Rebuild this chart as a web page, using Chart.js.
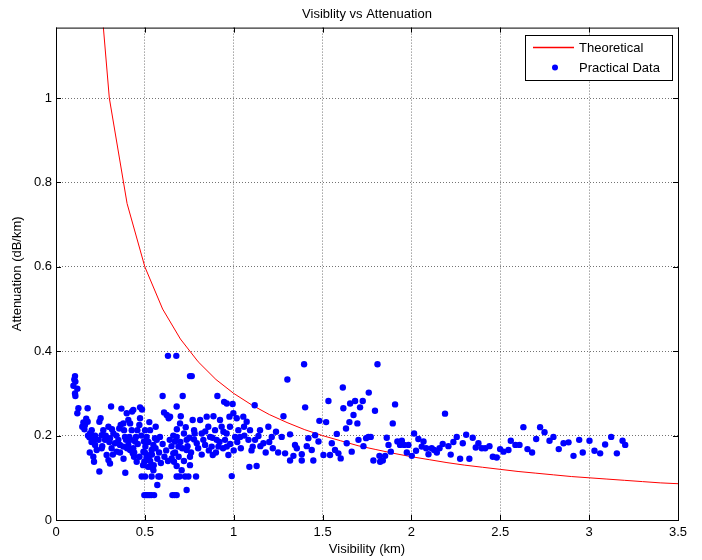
<!DOCTYPE html>
<html>
<head>
<meta charset="utf-8">
<script src="https://cdn.jsdelivr.net/npm/chart.js@4.4.1/dist/chart.umd.min.js"></script>
<style>
  html, body { margin: 0; padding: 0; background: #fff; }
  canvas { display: block; }
</style>
</head>
<body>
<canvas id="chart" width="702" height="560"></canvas>
<script>
// axis ticks
const xTicks = [0, 0.5, 1, 1.5, 2, 2.5, 3, 3.5];
const xTickLabels = ['0', '0.5', '1', '1.5', '2', '2.5', '3', '3.5'];
const yTicks = [0, 0.2, 0.4, 0.6, 0.8, 1];
const yTickLabels = ['0', '0.2', '0.4', '0.6', '0.8', '1'];

// theoretical curve
const theoryVis = [0.2, 0.3, 0.4, 0.5, 0.6, 0.7, 0.8, 0.9, 1.0, 1.1, 1.2, 1.3, 1.4, 1.5, 1.6, 1.7, 1.8,
  1.9, 2.0, 2.1, 2.2, 2.3, 2.4, 2.5, 2.6, 2.7, 2.8, 2.9, 3.0, 3.1, 3.2, 3.3, 3.4, 3.5];
const theoryAtt = [1.5, 1.0, 0.75, 0.6, 0.5, 0.429, 0.375, 0.333, 0.3, 0.273, 0.25, 0.231, 0.214, 0.2,
  0.188, 0.176, 0.167, 0.158, 0.15, 0.143, 0.136, 0.13, 0.125, 0.12, 0.115, 0.111, 0.107, 0.103, 0.1,
  0.097, 0.094, 0.091, 0.088, 0.086];

// practical data, low visibility (< 1.25 km)
const visLow = [
  0.107, 0.103, 0.109, 0.098, 0.120, 0.107, 0.109, 0.126, 0.120, 0.178,
  0.154, 0.163, 0.148, 0.178, 0.201, 0.191, 0.188, 0.210, 0.220, 0.229,
  0.214, 0.244, 0.251, 0.244, 0.266, 0.257, 0.276, 0.257, 0.285, 0.295,
  0.304, 0.310, 0.295, 0.315, 0.323, 0.304, 0.332, 0.313, 0.341, 0.351,
  0.360, 0.368, 0.364, 0.356, 0.379, 0.383, 0.388, 0.379, 0.390, 0.398,
  0.407, 0.417, 0.426, 0.413, 0.394, 0.407, 0.417, 0.432, 0.428, 0.435,
  0.473, 0.484, 0.473, 0.469, 0.458, 0.450, 0.445, 0.435, 0.439, 0.454,
  0.482, 0.501, 0.510, 0.495, 0.503, 0.492, 0.510, 0.497, 0.518, 0.525,
  0.529, 0.561, 0.548, 0.538, 0.529, 0.522, 0.533, 0.538, 0.501, 0.576,
  0.570, 0.548, 0.585, 0.557, 0.567, 0.585, 0.600, 0.608, 0.623, 0.634,
  0.642, 0.630, 0.677, 0.679, 0.702, 0.698, 0.679, 0.670, 0.689, 0.660,
  0.651, 0.664, 0.679, 0.707, 0.679, 0.694, 0.713, 0.720, 0.735, 0.735,
  0.754, 0.754, 0.726, 0.745, 0.788, 0.735, 0.754, 0.764, 0.769, 0.777,
  0.777, 0.792, 0.811, 0.820, 0.829, 0.839, 0.848, 0.857, 0.867, 0.876,
  0.882, 0.886, 0.895, 0.904, 0.914, 0.923, 0.932, 0.942, 0.951, 0.961,
  0.970, 0.908, 0.946, 0.961, 0.976, 0.979, 0.994, 0.998, 1.008, 0.989,
  1.017, 1.026, 1.036, 1.054, 1.058, 1.073, 1.083, 1.092, 1.107, 1.088,
  1.129, 1.118, 1.139, 1.148, 1.167, 1.195, 1.214, 1.238,
  0.497, 0.507, 0.517, 0.527, 0.537, 0.552, 0.655, 0.667, 0.679
];
const attLow = [
  0.341, 0.333, 0.328, 0.318, 0.311, 0.300, 0.294, 0.265, 0.253, 0.265,
  0.231, 0.225, 0.221, 0.233, 0.213, 0.205, 0.196, 0.190, 0.178, 0.166,
  0.138, 0.115, 0.241, 0.233, 0.213, 0.201, 0.190, 0.170, 0.154, 0.142,
  0.134, 0.269, 0.221, 0.215, 0.205, 0.194, 0.182, 0.170, 0.162, 0.190,
  0.178, 0.264, 0.225, 0.217, 0.229, 0.213, 0.197, 0.174, 0.112, 0.253,
  0.237, 0.229, 0.213, 0.197, 0.190, 0.178, 0.166, 0.158, 0.257, 0.261,
  0.267, 0.262, 0.241, 0.225, 0.213, 0.197, 0.186, 0.170, 0.150, 0.138,
  0.103, 0.213, 0.197, 0.186, 0.174, 0.162, 0.150, 0.138, 0.126, 0.232,
  0.213, 0.221, 0.178, 0.166, 0.154, 0.142, 0.126, 0.103, 0.103, 0.103,
  0.083, 0.118, 0.103, 0.194, 0.190, 0.197, 0.294, 0.255, 0.249, 0.241,
  0.245, 0.389, 0.389, 0.269, 0.246, 0.229, 0.197, 0.186, 0.174, 0.158,
  0.146, 0.138, 0.128, 0.118, 0.103, 0.103, 0.294, 0.205, 0.190, 0.166,
  0.150, 0.130, 0.103, 0.103, 0.103, 0.071, 0.341, 0.341, 0.237, 0.213,
  0.191, 0.182, 0.237, 0.205, 0.190, 0.178, 0.245, 0.221, 0.197, 0.174,
  0.154, 0.246, 0.213, 0.190, 0.174, 0.237, 0.221, 0.209, 0.190, 0.174,
  0.154, 0.294, 0.280, 0.276, 0.245, 0.221, 0.275, 0.253, 0.197, 0.104,
  0.241, 0.213, 0.197, 0.245, 0.221, 0.233, 0.190, 0.213, 0.174, 0.126,
  0.128, 0.272, 0.199, 0.213, 0.182, 0.221, 0.197, 0.209,
  0.059, 0.059, 0.059, 0.059, 0.059, 0.059, 0.059, 0.059, 0.059
];

// practical data, higher visibility (>= 1.25 km)
const visHigh = [
  1.270, 1.280, 1.302, 1.396, 1.402, 1.317, 1.336, 1.289, 1.345, 1.355,
  1.317, 1.383, 1.383, 1.411, 1.420, 1.448, 1.439, 1.458, 1.477, 1.482,
  1.505, 1.520, 1.533, 1.542, 1.552, 1.570, 1.580, 1.589, 1.602, 1.614,
  1.617, 1.632, 1.636, 1.651, 1.655, 1.664, 1.674, 1.683, 1.696, 1.702,
  1.711, 1.726, 1.730, 1.745, 1.758, 1.771, 1.760, 1.786, 1.795, 1.809,
  1.820, 1.824, 1.839, 1.852, 1.861, 1.871, 1.884, 1.895, 1.908, 1.921,
  1.936, 1.946, 1.959, 1.974, 1.983, 2.002, 2.015, 2.026, 2.039, 2.058,
  2.068, 2.083, 2.096, 2.114, 2.128, 2.143, 2.158, 2.176, 2.189, 2.208,
  2.221, 2.236, 2.255, 2.274, 2.289, 2.308, 2.326, 2.345, 2.362, 2.377,
  2.396, 2.415, 2.439, 2.458, 2.480, 2.499, 2.518, 2.546, 2.559, 2.585,
  2.608, 2.630, 2.653, 2.679, 2.702, 2.724, 2.749, 2.777, 2.799, 2.829,
  2.856, 2.884, 2.912, 2.944, 2.964, 3.002, 3.030, 3.062, 3.090, 3.124,
  3.156, 3.188, 3.203
];
const attHigh = [
  0.197, 0.246, 0.333, 0.369, 0.267, 0.141, 0.152, 0.158, 0.178, 0.170,
  0.203, 0.141, 0.156, 0.175, 0.194, 0.141, 0.166, 0.201, 0.186, 0.235,
  0.154, 0.232, 0.282, 0.154, 0.182, 0.166, 0.204, 0.158, 0.146, 0.314,
  0.265, 0.217, 0.182, 0.232, 0.276, 0.162, 0.249, 0.282, 0.229, 0.190,
  0.267, 0.282, 0.175, 0.194, 0.197, 0.197, 0.302, 0.141, 0.259, 0.369,
  0.152, 0.138, 0.141, 0.152, 0.195, 0.178, 0.162, 0.229, 0.274, 0.186,
  0.178, 0.188, 0.178, 0.160, 0.178, 0.152, 0.205, 0.164, 0.192, 0.174,
  0.186, 0.170, 0.156, 0.170, 0.166, 0.160, 0.170, 0.180, 0.252, 0.175,
  0.155, 0.185, 0.197, 0.145, 0.182, 0.202, 0.145, 0.195, 0.172, 0.182,
  0.170, 0.170, 0.175, 0.150, 0.148, 0.168, 0.162, 0.166, 0.188, 0.178,
  0.178, 0.220, 0.168, 0.160, 0.192, 0.220, 0.208, 0.188, 0.197, 0.168,
  0.182, 0.184, 0.152, 0.190, 0.160, 0.188, 0.164, 0.158, 0.179, 0.197,
  0.158, 0.188, 0.178
];

// the dense middle of the cloud, 0.15 - 1.25 km
const visDense = [
  0.36, 0.38, 0.40, 0.42, 0.44, 0.46, 0.47, 0.48, 0.49, 0.50,
  0.51, 0.52, 0.53, 0.54, 0.55, 0.56, 0.57, 0.58, 0.59, 0.60,
  0.61, 0.62, 0.63, 0.64, 0.65, 0.66, 0.67, 0.68, 0.69, 0.70,
  0.71, 0.72, 0.73, 0.74, 0.75, 0.76, 0.78, 0.80, 0.82, 0.84,
  0.86, 0.88, 0.90, 0.92, 0.94, 0.96, 0.98, 1.00, 1.02, 1.04,
  1.06, 1.10, 1.12, 1.15, 1.18, 1.20, 1.22, 1.25, 0.24, 0.26,
  0.28, 0.30, 0.32, 0.34, 0.18, 0.20, 0.22, 0.16, 0.19, 0.21, 0.17
];
const attDense = [
  0.16, 0.145, 0.17, 0.19, 0.16, 0.18, 0.15, 0.20, 0.13, 0.16,
  0.145, 0.185, 0.14, 0.155, 0.13, 0.17, 0.145, 0.16, 0.135, 0.18,
  0.15, 0.165, 0.14, 0.19, 0.175, 0.20, 0.16, 0.215, 0.15, 0.185,
  0.17, 0.14, 0.22, 0.175, 0.195, 0.16, 0.205, 0.17, 0.155, 0.21,
  0.165, 0.195, 0.16, 0.185, 0.17, 0.205, 0.18, 0.165, 0.185, 0.17,
  0.20, 0.165, 0.19, 0.175, 0.16, 0.185, 0.17, 0.16, 0.19, 0.175,
  0.20, 0.185, 0.155, 0.20, 0.20, 0.185, 0.20, 0.215, 0.16, 0.15, 0.24
];

const FONT = "'Liberation Sans', Arial, Helvetica, sans-serif";
Chart.defaults.font.family = FONT;
Chart.defaults.font.size = 13;
Chart.defaults.color = '#000';

const toPoints = (xs, ys) => xs.map((v, i) => ({ x: v, y: ys[i] }));
const practical = toPoints(visLow, attLow)
  .concat(toPoints(visHigh, attHigh))
  .concat(toPoints(visDense, attDense));

// matlab style box, inward ticks and boxed legend
const matlabFrame = {
  id: 'matlabFrame',
  afterDraw(chart) {
    const { ctx, chartArea: a, scales: { x, y } } = chart;
    ctx.save();
    ctx.strokeStyle = '#000';
    ctx.lineWidth = 1;
    ctx.strokeRect(a.left + 0.5, a.top + 0.5, a.right - a.left, a.bottom - a.top);
    ctx.beginPath();
    xTicks.forEach(v => {
      const px = Math.round(x.getPixelForValue(v)) + 0.5;
      ctx.moveTo(px, a.bottom); ctx.lineTo(px, a.bottom - 5);
      ctx.moveTo(px, a.top); ctx.lineTo(px, a.top + 5);
    });
    yTicks.forEach(v => {
      const py = Math.round(y.getPixelForValue(v)) + 0.5;
      ctx.moveTo(a.left, py); ctx.lineTo(a.left + 5, py);
      ctx.moveTo(a.right, py); ctx.lineTo(a.right - 5, py);
    });
    ctx.stroke();

    // legend
    const ds = chart.data.datasets;
    const box = { x: 525.5, y: 35.5, w: 147, h: 45 };
    ctx.fillStyle = '#fff';
    ctx.fillRect(box.x, box.y, box.w, box.h);
    ctx.strokeRect(box.x, box.y, box.w, box.h);
    ctx.strokeStyle = ds[0].borderColor;
    ctx.lineWidth = 1.5;
    ctx.beginPath();
    ctx.moveTo(533, 47.5); ctx.lineTo(574, 47.5);
    ctx.stroke();
    ctx.fillStyle = ds[1].backgroundColor;
    ctx.beginPath();
    ctx.arc(555, 67.5, 3, 0, Math.PI * 2);
    ctx.fill();
    ctx.fillStyle = '#000';
    ctx.font = '13px ' + FONT;
    ctx.textBaseline = 'middle';
    ctx.textAlign = 'left';
    ctx.fillText(ds[0].label, 579, 48);
    ctx.fillText(ds[1].label, 579, 68);
    ctx.restore();
  }
};

new Chart(document.getElementById('chart'), {
  type: 'scatter',
  data: {
    datasets: [{
      label: 'Theoretical',
      data: toPoints(theoryVis, theoryAtt),
      showLine: true,
      borderColor: '#ff0000',
      borderWidth: 1,
      pointRadius: 0,
      pointHoverRadius: 0,
      tension: 0,
      order: 2
    }, {
      label: 'Practical Data',
      data: practical,
      backgroundColor: '#0000ff',
      borderColor: '#0000ff',
      borderWidth: 0,
      pointRadius: 3.2,
      pointHoverRadius: 3.2,
      order: 1
    }]
  },
  options: {
    responsive: false,
    animation: false,
    devicePixelRatio: 1,
    layout: { padding: { left: 0, right: 24, top: 0, bottom: 0 } },
    plugins: {
      legend: { display: false },
      tooltip: { enabled: false },
      title: {
        display: true,
        text: 'Visiblity vs Attenuation',
        fullSize: false,
        color: '#000',
        font: { size: 13, weight: 'normal' },
        padding: { top: 7, bottom: 5 }
      }
    },
    scales: {
      x: {
        type: 'linear',
        min: 0,
        max: 3.5,
        afterBuildTicks: s => { s.ticks = xTicks.map(v => ({ value: v })); },
        afterFit: s => { s.height = 40; },
        ticks: { padding: 5, color: '#000', callback: (v, i) => xTickLabels[i] },
        grid: { color: 'rgba(0,0,0,0.55)', lineWidth: 1, drawTicks: false },
        border: { display: false, dash: [1, 2] },
        title: { display: true, text: 'Visibility (km)', color: '#000', padding: { top: 0, bottom: 3 } }
      },
      y: {
        type: 'linear',
        min: 0,
        max: 1.167,
        afterBuildTicks: s => { s.ticks = yTicks.map(v => ({ value: v })); },
        afterFit: s => { s.width = 56; },
        ticks: { padding: 4, color: '#000', callback: (v, i) => yTickLabels[i] },
        grid: { color: 'rgba(0,0,0,0.55)', lineWidth: 1, drawTicks: false },
        border: { display: false, dash: [1, 2] },
        title: { display: true, text: 'Attenuation (dB/km)', color: '#000', padding: { top: 10, bottom: 0 } }
      }
    }
  },
  plugins: [matlabFrame]
});
</script>
</body>
</html>
